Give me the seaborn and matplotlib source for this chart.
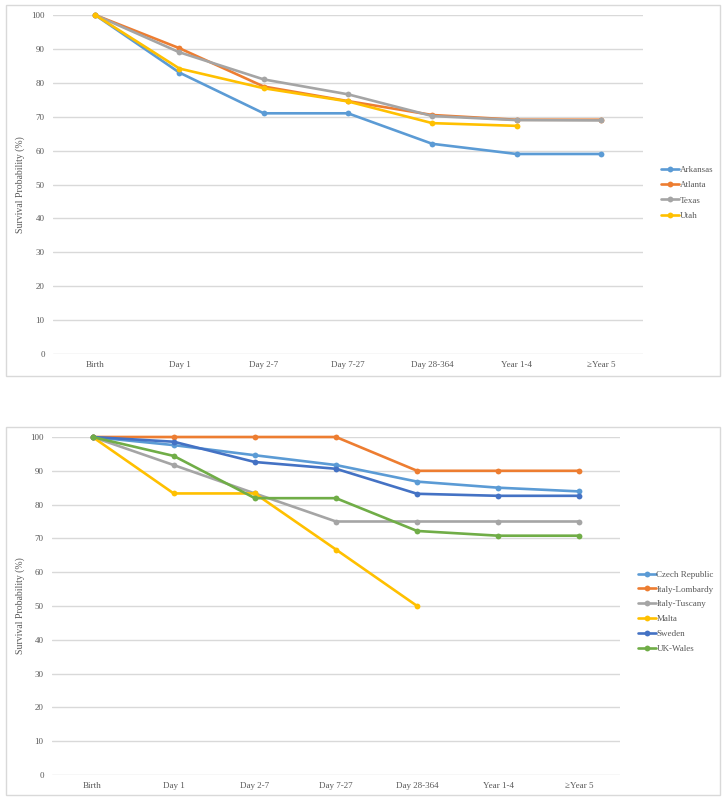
import numpy as np
import pandas as pd
import matplotlib
matplotlib.use("Agg")
import matplotlib.pyplot as plt
from matplotlib.patches import Rectangle
from matplotlib.lines import Line2D
import seaborn as sns

sns.set_theme(style="white")
plt.rcParams['font.family'] = ['Liberation Serif', 'DejaVu Serif']

stages = ["Birth", "Day 1", "Day 2-7", "Day 7-27", "Day 28-364", "Year 1-4", "\u2265Year 5"]

# Top panel (US states)
arkansas = [100, 83.0, 71.0, 71.0, 62.0, 59.0, 59.0]
atlanta = [100, 90.2, 78.9, 74.6, 70.5, 69.1, 69.1]
texas = [100, 89.0, 81.0, 76.6, 70.2, 69.0, 68.9]
utah = [100, 84.2, 78.4, 74.5, 68.1, 67.3, np.nan]
top_names = ["Arkansas", "Atlanta", "Texas", "Utah"]
top_values = [arkansas, atlanta, texas, utah]
top_colors = ["#5B9BD5", "#ED7D31", "#A5A5A5", "#FFC000"]

# Bottom panel (European registries)
czech = [100, 97.6, 94.6, 91.7, 86.8, 85.0, 83.9]
lombardy = [100, 100, 100, 100, 90.0, 90.0, 90.0]
tuscany = [100, 91.7, 83.3, 75.0, 75.0, 75.0, 75.0]
malta = [100, 83.3, 83.3, 66.7, 50.0, np.nan, np.nan]
sweden = [100, 98.6, 92.6, 90.6, 83.2, 82.6, 82.6]
wales = [100, 94.4, 81.9, 81.9, 72.2, 70.8, 70.8]
bot_names = ["Czech Republic", "Italy-Lombardy", "Italy-Tuscany", "Malta", "Sweden", "UK-Wales"]
bot_values = [czech, lombardy, tuscany, malta, sweden, wales]
bot_colors = ["#5B9BD5", "#ED7D31", "#A5A5A5", "#FFC000", "#4472C4", "#70AD47"]

W, H = 725, 801
fig = plt.figure(figsize=(W / 100, H / 100), dpi=100)

def fx(px):
    return px / W

def fy(py):
    return 1 - py / H

def long_df(names, values):
    rows = []
    for n, vals in zip(names, values):
        for i, (s, v) in enumerate(zip(stages, vals)):
            if not np.isnan(v):
                rows.append({"stage": s, "pos": i, "series": n, "value": v})
    return pd.DataFrame(rows)

def panel(box, ax_box, names, values, colors, leg_x, leg_y, spacing):
    # panel border
    x0, y0, x1, y1 = box
    fig.patches.append(Rectangle((fx(x0), fy(y1)), fx(x1) - fx(x0), fy(y0) - fy(y1),
                                 transform=fig.transFigure, fill=False,
                                 edgecolor="#D9D9D9", linewidth=1.0))
    l, t, r, b = ax_box
    ax = fig.add_axes([fx(l), fy(b), fx(r) - fx(l), fy(t) - fy(b)])
    df = long_df(names, values)
    sns.lineplot(data=df, x="pos", y="value", hue="series", hue_order=names,
                 palette=colors, marker="o", markersize=4.2, markeredgewidth=0,
                 linewidth=1.9, ax=ax, legend=False, sort=False)
    ax.set_xlim(-0.5, len(stages) - 0.5)
    ax.set_ylim(0, 100)
    ax.set_xticks(range(len(stages)))
    ax.set_xticklabels(stages)
    ax.set_yticks(range(0, 101, 10))
    ax.set_xlabel("")
    ax.set_ylabel("Survival Probability (%)", fontsize=7, color="#595959")
    ax.yaxis.set_label_coords((25 - l) / (r - l), 0.5)
    ax.tick_params(axis="both", length=0, labelsize=6.5, labelcolor="#595959")
    ax.tick_params(axis="x", pad=5)
    ax.tick_params(axis="y", pad=6)
    ax.grid(axis="y", color="#D9D9D9", linewidth=1.0)
    ax.set_axisbelow(True)
    for sp in ax.spines.values():
        sp.set_visible(False)
    for line in ax.lines:
        line.set_clip_on(False)
    handles = [Line2D([], [], color=c, linewidth=1.9, marker="o", markersize=4.2,
                      markeredgewidth=0) for c in colors]
    fig.legend(handles, names, loc="upper left",
               bbox_to_anchor=(fx(leg_x), fy(leg_y)), frameon=False,
               fontsize=6.5, handlelength=2.0, handletextpad=0.1,
               labelspacing=spacing, borderpad=0, labelcolor="#595959")
    return ax

panel((6, 5, 720, 376), (53, 15, 643, 354), top_names, top_values, top_colors, 656, 161, 0.78)
panel((6, 427, 720, 795), (52, 437, 620, 775), bot_names, bot_values, bot_colors, 633, 566, 0.72)

fig.savefig("out.png", dpi=100, facecolor="white")
